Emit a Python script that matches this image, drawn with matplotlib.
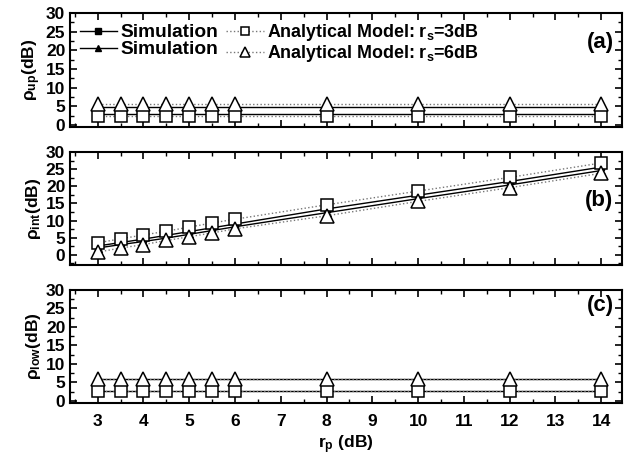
import numpy as np
import matplotlib
matplotlib.use('Agg')
import matplotlib.pyplot as plt
from matplotlib.ticker import MultipleLocator
from matplotlib.font_manager import FontProperties

plt.rcParams['font.family'] = ['Liberation Sans', 'DejaVu Sans']
plt.rcParams['font.weight'] = 'bold'
plt.rcParams['mathtext.fontset'] = 'custom'
plt.rcParams['mathtext.rm'] = 'Liberation Sans:bold'
plt.rcParams['mathtext.it'] = 'Liberation Sans:bold'
plt.rcParams['mathtext.bf'] = 'Liberation Sans:bold'

# r_p values (dB)
rp = [3, 3.5, 4, 4.5, 5, 5.5, 6, 8, 10, 12, 14]

# panel (a): rho_up
a_sim3 = [3.0]*11
a_sim6 = [4.8]*11
a_ana3 = [2.5]*11
a_ana6 = [5.7]*11

# panel (b): rho_int
b_sim3 = [2.6, 3.6, 4.6, 5.7, 6.8, 7.9, 9.0, 13.4, 17.4, 21.4, 25.6]
b_sim6 = [2.0, 3.0, 3.9, 4.9, 6.0, 7.1, 8.2, 12.3, 16.4, 20.4, 24.6]
b_ana3 = [3.5, 4.7, 5.8, 6.9, 8.1, 9.3, 10.4, 14.6, 18.6, 22.6, 26.8]
b_ana6 = [0.8, 2.0, 3.0, 4.2, 5.3, 6.4, 7.6, 11.4, 15.6, 19.6, 23.8]

# panel (c): rho_low
c_sim3 = [2.8]*11
c_sim6 = [5.8]*11
c_ana3 = [2.8]*11
c_ana6 = [5.9]*11

ylabels = ['ρ$_{up}$(dB)', 'ρ$_{int}$(dB)', 'ρ$_{low}$(dB)']
tags = ['(a)', '(b)', '(c)']
tag_y = [0.74, 0.575, 0.86]
panels = [(a_sim3, a_sim6, a_ana3, a_ana6),
          (b_sim3, b_sim6, b_ana3, b_ana6),
          (c_sim3, c_sim6, c_ana3, c_ana6)]
ylims = [(-0.5, 30), (-3, 30), (-0.5, 30)]

fig = plt.figure(figsize=(6.32, 4.62), dpi=100)
boxes = [[0.111, 0.725, 0.873, 0.247],
         [0.111, 0.426, 0.873, 0.245],
         [0.111, 0.128, 0.873, 0.245]]

for i in range(3):
    ax = fig.add_axes(boxes[i])
    s3, s6, a3, a6 = panels[i]
    l1, = ax.plot(rp, s3, '-', color='k', lw=1.0, marker='s', ms=5, mfc='k', mec='k', zorder=2)
    l2, = ax.plot(rp, s6, '-', color='k', lw=1.0, marker='^', ms=6, mfc='k', mec='k', zorder=2)
    l3, = ax.plot(rp, a3, ':', color='#777777', lw=1.0, marker='s', ms=8, mfc='white', mec='k', mew=1.1, zorder=3)
    l4, = ax.plot(rp, a6, ':', color='#777777', lw=1.0, marker='^', ms=10, mfc='white', mec='k', mew=1.1, zorder=3)
    ax.set_xlim(2.4, 14.45)
    ax.set_ylim(*ylims[i])
    ax.xaxis.set_major_locator(MultipleLocator(1))
    ax.xaxis.set_minor_locator(MultipleLocator(0.5))
    ax.yaxis.set_major_locator(MultipleLocator(5))
    ax.yaxis.set_minor_locator(MultipleLocator(2.5))
    ax.tick_params(which='both', direction='in', top=True, right=True, labelsize=12.5)
    ax.tick_params(which='major', length=5, width=1.2)
    ax.tick_params(which='minor', length=3, width=1.0)
    ax.tick_params(axis='x', pad=8)
    for sp in ax.spines.values():
        sp.set_linewidth(1.5)
    ax.set_ylabel(ylabels[i], fontsize=12.5, fontweight='bold', labelpad=2)
    ax.text(0.985, tag_y[i], tags[i], transform=ax.transAxes, ha='right', va='center',
            fontsize=16, fontweight='bold')
    if i < 2:
        ax.tick_params(labelbottom=False)
    else:
        ax.set_xlabel('r$_p$ (dB)', fontsize=12.5, fontweight='bold', labelpad=3)
    if i == 0:
        leg = ax.legend([l1, l2, l3, l4],
                        ['Simulation', 'Simulation',
                         'Analytical Model: r$_s$=3dB', 'Analytical Model: r$_s$=6dB'],
                        ncol=2, loc='upper left', frameon=False, bbox_to_anchor=(0.0, 1.0),
                        handlelength=2.0, handletextpad=0.2, columnspacing=0.4,
                        labelspacing=0.0, borderaxespad=0.1, markerscale=0.75,
                        prop={'size': 13.5, 'weight': 'bold'})
        for j, t in enumerate(leg.get_texts()):
            t.set_fontproperties(FontProperties(size=13.8 if j < 2 else 12.9, weight='bold'))

for lbl in fig.axes[2].get_xticklabels() + [l for a in fig.axes for l in a.get_yticklabels()]:
    lbl.set_fontweight('bold')

fig.savefig('out.png', dpi=100)
